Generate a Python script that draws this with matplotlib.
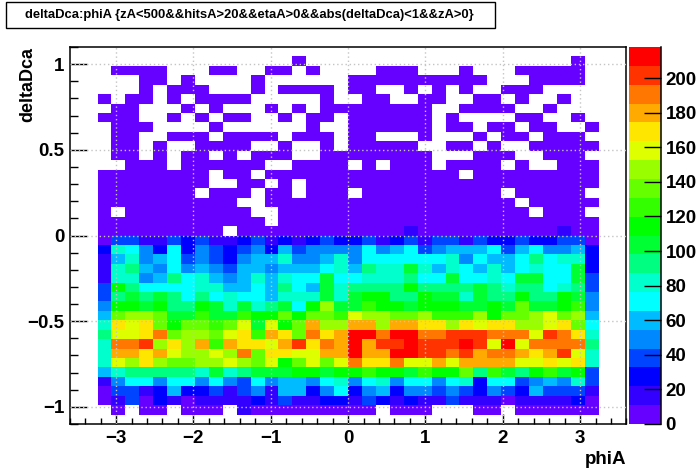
#!/usr/bin/env python3
"""deltaDca vs phiA 2D histogram, ROOT COLZ look."""

import numpy as np
import matplotlib
matplotlib.use("Agg")
import matplotlib.pyplot as plt
from matplotlib.colors import ListedColormap, BoundaryNorm
from matplotlib.patches import Rectangle
from matplotlib.ticker import MultipleLocator

plt.rcParams['font.family'] = ['Liberation Sans', 'DejaVu Sans']
plt.rcParams['font.weight'] = 'bold'

TITLE = "deltaDca:phiA {zA<500&&hitsA>20&&etaA>0&&abs(deltaDca)<1&&zA>0}"
X_LABEL = "phiA"
Y_LABEL = "deltaDca"

# ── Axis ranges and binning ───────────────────────────────────────────────────
X_RANGE = (-3.6, 3.6)
Y_RANGE = (-1.1, 1.1)
Z_MAX = 218
phi_edges = np.linspace(-3.24, 3.24, 37)
dca_edges = np.linspace(1.045, -1.045, 39)

x_ticks = [-3, -2, -1, 0, 1, 2, 3]
y_ticks = [-1, -0.5, 0, 0.5, 1]
z_ticks = list(range(0, 201, 20))

# 20 colour bands, low to high
band_colors = [
    '#6600ff', '#3300ff', '#0000ff', '#0044ff', '#0088ff',
    '#00bbff', '#00ffff', '#00ffcc', '#00ff80', '#00ff33',
    '#00ff00', '#33ff00', '#66ff00', '#99ff00', '#ddff00',
    '#ffe600', '#ffaa00', '#ff7700', '#ff3300', '#ff0000',
]

# ── Bin contents, one row per deltaDca bin from the top, 0 = empty ────────────
counts = [
    [0,0,0,0,0,0, 0,0,0,0,0,0, 0,0,3,0,0,0, 0,0,0,0,0,0, 0,0,0,0,0,0, 0,0,0,0,3,0],
    [0,3,3,3,3,0, 0,0,3,3,0,0, 3,3,0,3,0,0, 0,0,3,3,3,0, 0,0,3,0,0,0, 3,3,3,3,3,0],
    [0,0,0,3,3,0, 3,0,0,0,0,3, 0,0,0,0,0,0, 3,3,3,3,3,3, 3,3,3,3,0,0, 0,3,3,3,3,0],
    [0,0,0,3,0,3, 3,3,0,0,0,3, 0,3,3,3,3,0, 3,3,0,0,3,0, 3,0,3,0,0,3, 3,3,0,0,0,0],
    [3,0,3,3,0,3, 0,3,3,3,3,0, 0,0,0,0,3,0, 0,3,3,0,0,3, 3,0,0,3,3,0, 3,0,0,3,0,0],
    [0,3,3,0,0,0, 3,0,3,0,0,0, 3,0,3,0,3,3, 3,3,3,3,3,3, 0,0,3,3,3,3, 0,0,3,0,0,0],
    [3,3,3,0,0,3, 0,3,0,3,3,0, 0,3,0,3,3,0, 3,3,3,3,3,3, 0,3,0,0,0,0, 3,3,0,0,3,0],
    [0,3,3,3,0,0, 0,0,3,0,0,0, 0,0,0,3,0,0, 3,3,3,3,3,3, 0,3,3,0,3,3, 0,3,3,0,0,3],
    [0,3,3,0,0,3, 3,3,0,3,3,3, 3,0,3,3,3,0, 3,3,0,0,0,3, 0,0,0,3,0,3, 3,0,3,3,3,0],
    [0,3,3,0,3,0, 0,3,3,3,3,0, 0,3,0,0,3,0, 3,3,3,3,3,0, 0,3,3,0,3,0, 0,3,3,3,3,3],
    [0,3,3,0,3,0, 3,3,0,3,0,3, 3,3,0,0,3,3, 3,3,3,3,3,3, 0,0,0,3,3,3, 0,0,3,3,3,0],
    [0,0,3,3,3,0, 3,3,3,3,3,3, 0,0,3,3,3,3, 0,3,0,3,3,3, 0,3,3,3,3,0, 3,0,0,3,3,3],
    [3,3,3,3,3,3, 3,3,0,3,3,0, 3,3,3,3,3,3, 3,3,3,3,3,3, 3,3,0,3,3,3, 3,3,3,3,3,3],
    [3,3,3,3,3,3, 3,3,0,0,3,3, 0,3,0,3,3,3, 3,3,3,3,3,3, 3,3,3,3,3,3, 3,3,3,3,3,3],
    [3,3,3,3,3,3, 3,0,3,3,3,0, 3,3,0,3,3,3, 0,3,3,3,3,3, 3,3,3,3,3,0, 3,3,3,3,3,0],
    [3,3,3,3,3,3, 3,3,3,3,0,0, 3,3,3,3,3,3, 3,3,3,3,3,3, 3,3,3,3,3,3, 0,3,3,3,3,3],
    [3,0,3,3,3,3, 3,3,3,3,3,0, 0,3,3,3,3,3, 3,3,3,3,3,3, 3,3,3,3,3,3, 3,0,3,3,3,0],
    [3,3,3,3,3,3, 3,3,3,3,3,3, 0,3,3,3,3,3, 3,3,3,3,3,3, 3,3,3,3,3,3, 3,3,3,3,3,3],
    [3,3,3,3,3,3, 3,3,3,0,3,3, 3,3,3,3,3,3, 3,3,3,3,16,3, 3,3,3,3,3,3, 3,3,3,16,3,3],
    [5,38,38,16,16,38,27,38,16,16,27,38,16,27,16,27,38,27,27,38,16,27,38,16,38,38,16,38,27,27,38,27,27,38,38,5],
    [27,82,71,49,27,71,27,49,38,27,38,49,27,60,38,49,49,49,49,71,49,60,71,38,49,60,60,60,71,38,60,71,49,49,60,27],
    [16,60,82,49,60,71,38,49,38,27,49,60,60,82,49,49,60,82,49,71,71,71,71,71,71,82,49,71,60,60,71,93,71,82,82,27],
    [16,82,93,60,49,71,49,60,49,38,60,60,49,60,60,60,71,82,60,93,82,82,104,82,60,82,71,60,82,60,71,82,71,71,104,27],
    [16,82,82,49,60,93,71,82,60,49,60,82,60,82,71,71,104,71,71,82,82,82,93,71,71,104,71,71,82,71,104,104,71,71,104,38],
    [38,115,93,71,71,71,71,82,82,60,60,71,60,93,71,60,104,82,93,93,93,93,115,93,93,93,93,104,93,82,93,93,71,82,93,38],
    [38,93,104,93,104,93,71,93,71,82,71,71,60,82,82,82,104,82,104,115,115,93,93,115,104,104,82,104,93,93,115,93,93,115,104,49],
    [49,115,115,104,115,93,93,115,104,82,104,82,93,104,71,115,147,104,104,125,115,115,104,115,115,115,104,104,115,104,136,104,104,115,125,49],
    [60,136,147,147,136,104,104,125,104,104,125,115,115,136,115,136,136,125,158,147,147,136,136,147,125,125,125,147,115,136,136,147,158,136,147,60],
    [82,169,158,169,136,115,136,136,125,136,158,104,158,115,136,180,147,147,180,180,147,180,180,169,169,147,169,158,169,169,147,147,158,169,136,71],
    [93,158,158,169,191,136,147,147,136,158,169,125,180,169,136,191,169,180,213,213,191,213,213,191,191,202,202,202,191,191,191,158,202,191,169,82],
    [82,191,191,202,147,169,147,180,125,180,169,169,158,180,202,169,191,180,213,180,202,202,213,202,202,202,213,202,158,213,158,191,191,191,191,93],
    [82,180,180,169,180,158,147,147,158,147,191,136,169,169,158,158,180,180,213,180,180,213,213,202,202,191,202,180,191,191,180,169,180,202,158,82],
    [82,158,147,169,147,136,136,147,147,158,147,136,158,115,136,158,136,158,191,169,169,191,158,158,180,158,180,180,180,180,158,158,169,158,169,82],
    [60,82,93,93,93,93,93,82,104,82,93,104,104,104,115,115,104,115,115,125,115,115,104,125,115,115,136,93,125,104,93,115,125,104,115,38],
    [16,49,71,71,49,71,71,49,71,49,38,71,49,60,60,49,71,82,49,71,82,49,71,71,49,71,82,27,71,71,38,49,60,49,82,38],
    [5,38,38,16,27,60,27,27,38,16,38,49,16,60,60,27,49,71,27,49,60,27,49,49,38,49,38,27,49,38,27,60,38,38,38,16],
    [5,16,38,5,27,16,5,16,16,16,16,27,16,38,16,16,27,27,16,38,27,16,27,16,16,38,16,16,16,5,16,16,16,16,27,5],
    [0,5,0,5,5,0,5,5,5,0,16,5,5,5,5,5,5,5,5,5,0,5,5,5,0,0,0,5,5,0,5,5,5,5,5,5],
]

# ── Figure ────────────────────────────────────────────────────────────────────
W, H = 696, 472
fig = plt.figure(figsize=(W / 100, H / 100), dpi=100)
ax = fig.add_axes([69.7 / W, 1 - 424 / H, (626.5 - 69.7) / W, (424 - 47) / H])
cax = fig.add_axes([629 / W, 1 - 424 / H, (661.3 - 629) / W, (424 - 47) / H])

cmap = ListedColormap(band_colors)
cmap.set_bad('white')
norm = BoundaryNorm(np.linspace(0, Z_MAX, len(band_colors) + 1), cmap.N)

z = np.ma.masked_equal(np.array(counts, dtype=float), 0)
mesh = ax.pcolormesh(phi_edges, dca_edges, z, cmap=cmap, norm=norm, zorder=1)

ax.set_xlim(*X_RANGE)
ax.set_ylim(*Y_RANGE)

# Dotted grid goes on top of the cells and of the tick marks
for x in x_ticks:
    ax.axvline(x, color='#c4c4c4', lw=1.0, ls=(0, (1, 2)), zorder=4)
for y in y_ticks:
    ax.axhline(y, color='#c4c4c4', lw=1.0, ls=(0, (1, 2)), zorder=4)

ax.set_axisbelow(False)
ax.set_xticks(x_ticks)
ax.set_yticks(y_ticks)
ax.set_yticklabels(["\u22121", "\u22120.5", "0", "0.5", "1"])
ax.xaxis.set_minor_locator(MultipleLocator(0.2))
ax.yaxis.set_minor_locator(MultipleLocator(0.1))
ax.tick_params(axis='x', which='major', direction='in', length=7, width=1, labelsize=13.5, pad=4)
ax.tick_params(axis='x', which='minor', direction='in', length=4, width=1)
ax.tick_params(axis='y', which='major', direction='in', length=12, width=1, labelsize=13.5, pad=4)
ax.tick_params(axis='y', which='minor', direction='in', length=6, width=1)
for side in ax.spines.values():
    side.set_linewidth(1.1)

fig.text(626 / W, 1 - 460 / H, X_LABEL, ha='right', va='center', fontsize=13.5, fontweight='bold')
fig.text(28 / W, 1 - 47 / H, Y_LABEL, ha='center', va='top', rotation=90, fontsize=13, fontweight='bold')

# ── Colour bar: only a right edge line, ticks point inward ────────────────────
cb = fig.colorbar(mesh, cax=cax, ticks=z_ticks, spacing='proportional')
cb.outline.set_visible(False)
cb.minorticks_off()
cax.tick_params(axis='y', direction='in', length=12, width=1, labelsize=13.5, pad=3, right=True)
cax.axvline(cax.get_xlim()[1], color='black', lw=1.1, clip_on=False)

# ── Title box ─────────────────────────────────────────────────────────────────
fig.add_artist(Rectangle((6.3 / W, 1 - 28.3 / H), (494.6 - 6.3) / W, 26 / H,
                         transform=fig.transFigure, facecolor='white', edgecolor='black', lw=1))
fig.text(249 / W, 1 - 15.3 / H, TITLE, ha='center', va='center', fontsize=9.4, fontweight='bold')

fig.savefig("out.png", dpi=100)
